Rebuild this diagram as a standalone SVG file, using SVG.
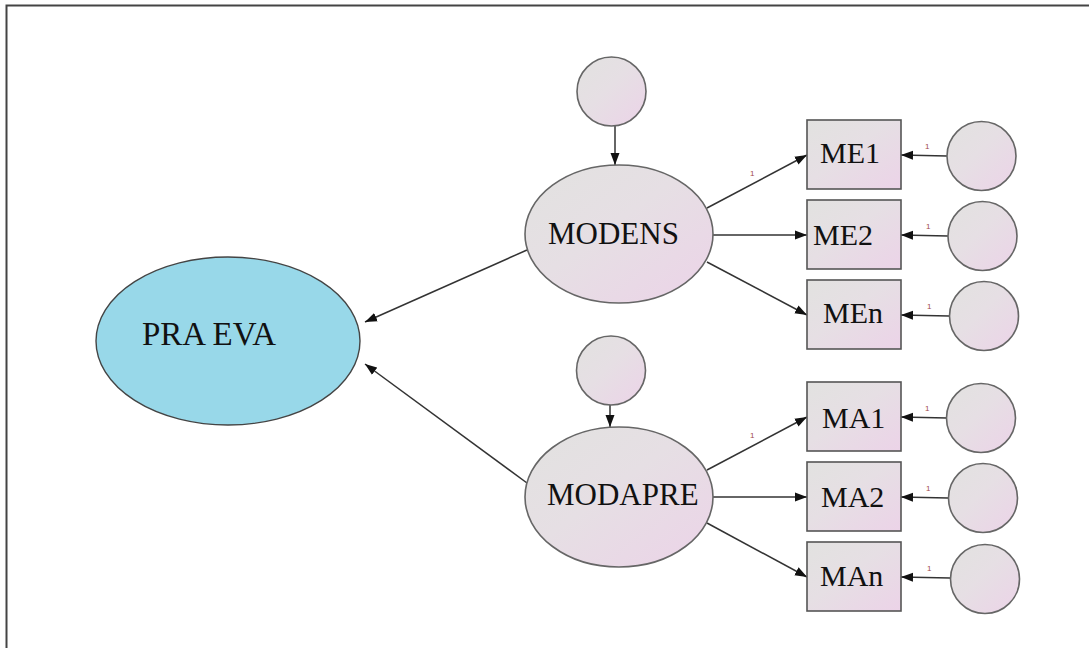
<svg xmlns="http://www.w3.org/2000/svg" width="1089" height="648" viewBox="0 0 1089 648">
<defs>
<linearGradient id="g" x1="0" y1="0" x2="1" y2="1">
<stop offset="0" stop-color="#e2e2e0"/>
<stop offset="0.45" stop-color="#e6dfe4"/>
<stop offset="1" stop-color="#ecd3e8"/>
</linearGradient>
<marker id="ah" markerUnits="userSpaceOnUse" markerWidth="14" markerHeight="10" refX="12" refY="5" orient="auto">
<path d="M0,0.5 L12,5 L0,9.5 Z" fill="#111"/>
</marker>
</defs>
<style>
.lat{fill:url(#g);stroke:#666;stroke-width:1.6}
.box{fill:url(#g);stroke:#555;stroke-width:1.6}
.main{fill:#98d8e9;stroke:#444;stroke-width:1.4}
.t{font-family:"Liberation Serif",serif;font-size:30px;fill:#111}
.e{font-size:31px}
.c{stroke:#333;stroke-width:1.5;fill:none;marker-end:url(#ah)}
.one{font-family:"Liberation Sans",sans-serif;font-size:8px;fill:#a04848}
</style>
<rect width="1089" height="648" fill="#fff"/>
<path d="M6.5,648 V5.5 H1089" fill="none" stroke="#444" stroke-width="2"/>

<g id="connectors">
<line class="c" x1="615" y1="126" x2="615" y2="165"/>
<line class="c" x1="610" y1="405" x2="610" y2="427"/>
<line class="c" x1="527" y1="250" x2="365" y2="322"/>
<line class="c" x1="527" y1="483" x2="365" y2="364"/>
<line class="c" x1="707" y1="208" x2="807" y2="155"/>
<line class="c" x1="713" y1="235" x2="807" y2="235"/>
<line class="c" x1="707" y1="262" x2="807" y2="315"/>
<line class="c" x1="707" y1="470" x2="807" y2="417"/>
<line class="c" x1="713" y1="497" x2="807" y2="497"/>
<line class="c" x1="707" y1="523" x2="807" y2="577"/>
<line class="c" x1="947" y1="156" x2="901" y2="155"/>
<line class="c" x1="948" y1="236" x2="901" y2="235"/>
<line class="c" x1="949" y1="316" x2="901" y2="315"/>
<line class="c" x1="947" y1="418" x2="901" y2="417"/>
<line class="c" x1="948" y1="498" x2="901" y2="497"/>
<line class="c" x1="950" y1="578" x2="901" y2="577"/>
<text class="one" x="750" y="176">1</text>
<text class="one" x="750" y="438">1</text>
<text class="one" x="925" y="149">1</text>
<text class="one" x="926" y="229">1</text>
<text class="one" x="927" y="309">1</text>
<text class="one" x="925" y="411">1</text>
<text class="one" x="926" y="491">1</text>
<text class="one" x="927" y="571">1</text>
</g>

<g id="praeva">
<ellipse class="main" cx="228" cy="341" rx="132" ry="84"/>
<text class="t" x="142" y="345" style="font-size:33px">PRA EVA</text>
</g>

<g id="modens">
<ellipse class="lat" cx="619" cy="234" rx="94" ry="69"/>
<text class="t e" x="548" y="244">MODENS</text>
</g>
<g id="e_modens"><circle class="lat" cx="611.5" cy="91.5" r="34.5"/></g>

<g id="modapre">
<ellipse class="lat" cx="619" cy="497" rx="94" ry="70"/>
<text class="t e" x="547" y="505">MODAPRE</text>
</g>
<g id="e_modapre"><circle class="lat" cx="611" cy="370.5" r="34.5"/></g>

<g id="me1"><rect class="box" x="807" y="120" width="94" height="69"/><text class="t" x="820" y="163">ME1</text></g>
<g id="me2"><rect class="box" x="807" y="200" width="94" height="69"/><text class="t" x="813" y="245">ME2</text></g>
<g id="men"><rect class="box" x="807" y="280" width="94" height="69"/><text class="t" x="823" y="323">MEn</text></g>
<g id="ma1"><rect class="box" x="807" y="382" width="94" height="69"/><text class="t" x="822" y="428">MA1</text></g>
<g id="ma2"><rect class="box" x="807" y="462" width="94" height="69"/><text class="t" x="821" y="507">MA2</text></g>
<g id="man"><rect class="box" x="807" y="542" width="94" height="69"/><text class="t" x="820" y="586">MAn</text></g>

<g id="e_me1"><circle class="lat" cx="981.5" cy="156" r="34.5"/></g>
<g id="e_me2"><circle class="lat" cx="982.5" cy="236" r="34.5"/></g>
<g id="e_men"><circle class="lat" cx="984" cy="316" r="34.5"/></g>
<g id="e_ma1"><circle class="lat" cx="981" cy="418" r="34.5"/></g>
<g id="e_ma2"><circle class="lat" cx="983" cy="498" r="34.5"/></g>
<g id="e_man"><circle class="lat" cx="985" cy="579" r="34.5"/></g>
</svg>
